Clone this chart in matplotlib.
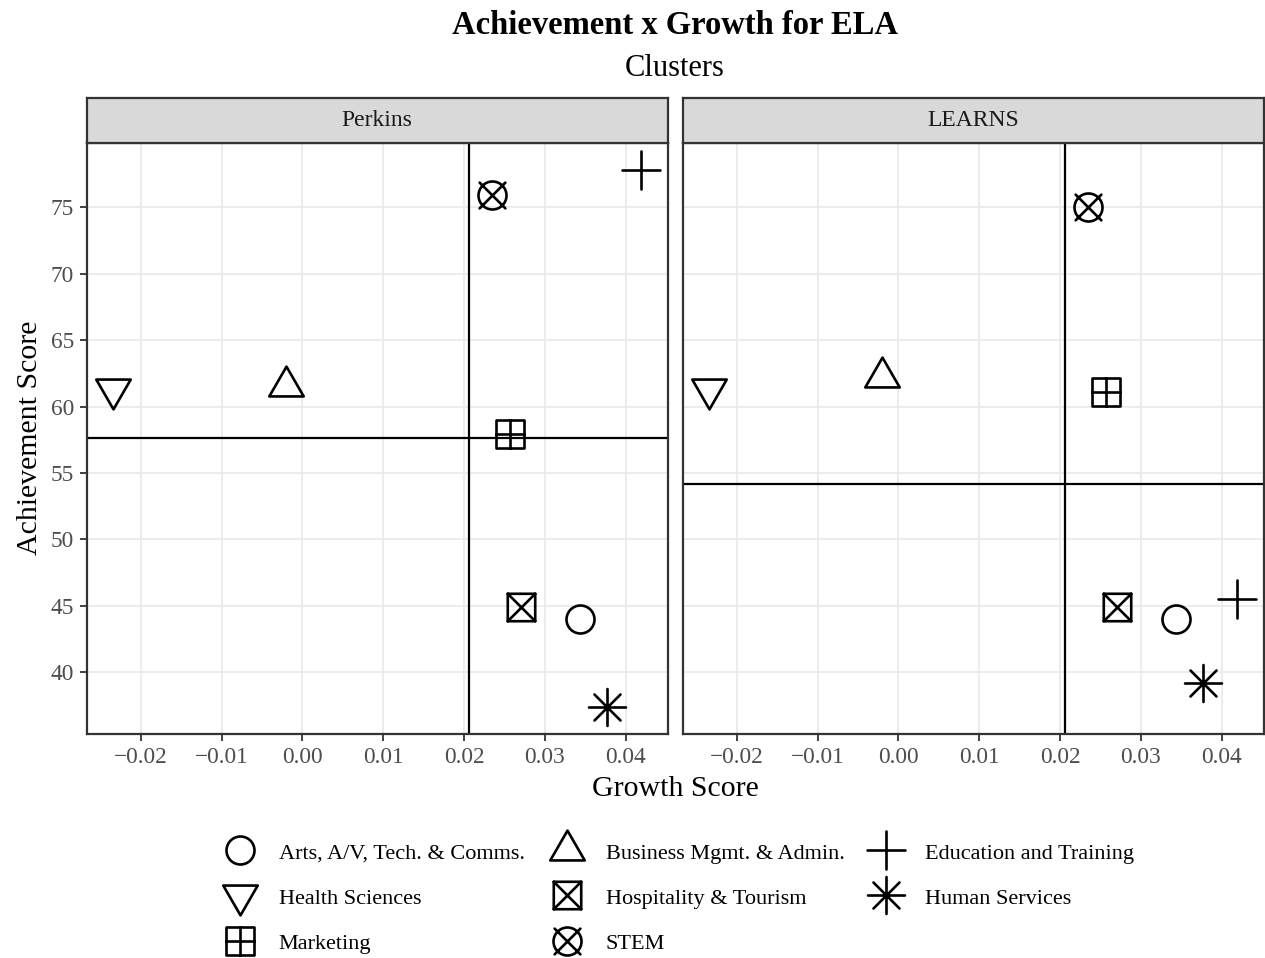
import numpy as np
import matplotlib
matplotlib.use("Agg")
import matplotlib.pyplot as plt
from matplotlib.path import Path
from matplotlib.markers import MarkerStyle
from matplotlib.lines import Line2D
from matplotlib.ticker import FuncFormatter

plt.rcParams['font.family'] = ['Liberation Serif', 'DejaVu Serif']

# data
clusters = ["Arts, A/V, Tech. & Comms.", "Business Mgmt. & Admin.", "Education and Training",
            "Health Sciences", "Hospitality & Tourism", "Human Services", "Marketing", "STEM"]
growth = [0.0343, -0.0020, 0.0419, -0.0234, 0.0270, 0.0377, 0.0257, 0.0235]
ach_perkins = [44.03, 61.54, 77.82, 61.32, 44.89, 37.38, 57.93, 75.90]
ach_learns = [44.03, 62.22, 45.50, 61.32, 44.89, 39.16, 61.13, 75.03]
panels = ["Perkins", "LEARNS"]
x_ticks = [-0.02, -0.01, 0.00, 0.01, 0.02, 0.03, 0.04]
y_ticks = [40, 45, 50, 55, 60, 65, 70, 75]


# ggplot-like point shapes built as paths (unit = circle radius)
def seg(x0, y0, x1, y1):
    return Path([(x0, y0), (x1, y1)], [Path.MOVETO, Path.LINETO])

def poly(pts):
    return Path(pts + [pts[0]], [Path.MOVETO] + [Path.LINETO] * (len(pts) - 1) + [Path.CLOSEPOLY])

def circ(r=1.0):
    c = Path.unit_circle()
    return Path(c.vertices * r, c.codes)

def comp(*ps):
    return Path.make_compound_path(*ps)

sq = 0.98
shapes = [
    circ(1.0),
    poly([(0, 1.42), (1.23, -0.71), (-1.23, -0.71)]),
    comp(seg(-1.36, 0, 1.36, 0), seg(0, -1.36, 0, 1.36)),
    poly([(0, -1.42), (1.23, 0.71), (-1.23, 0.71)]),
    comp(poly([(-sq, -sq), (sq, -sq), (sq, sq), (-sq, sq)]), seg(-sq, -sq, sq, sq), seg(-sq, sq, sq, -sq)),
    comp(seg(-1.32, 0, 1.32, 0), seg(0, -1.32, 0, 1.32), seg(-0.93, -0.93, 0.93, 0.93), seg(-0.93, 0.93, 0.93, -0.93)),
    comp(poly([(-sq, -sq), (sq, -sq), (sq, sq), (-sq, sq)]), seg(-sq, 0, sq, 0), seg(0, -sq, 0, sq)),
    comp(circ(1.0), seg(-0.92, -0.92, 0.92, 0.92), seg(-0.92, 0.92, 0.92, -0.92)),
]
r_pt = 14 * 0.72
markers = [MarkerStyle(p, capstyle='round', joinstyle='round') for p in shapes]
msizes = [2 * np.abs(p.vertices).max() * r_pt for p in shapes]
mew = 1.9

W, H = 1265, 958
fig = plt.figure(figsize=(W / 100, H / 100), dpi=100)

def fx(px):
    return px / W

def fy(px):
    return 1 - px / H

# limits like ggplot's 5% expansion
gx = np.array(growth)
ally = np.array(ach_perkins + ach_learns)
xpad = (gx.max() - gx.min()) * 0.05
ypad = (ally.max() - ally.min()) * 0.05
xlim = (gx.min() - xpad, gx.max() + xpad)
ylim = (ally.min() - ypad, ally.max() + ypad)

fmt = FuncFormatter(lambda v, p: ("%.2f" % (0.0 if abs(v) < 1e-9 else v)).replace('-', '\u2212'))

lefts = [87, 683]
pw = 580.5
top, bot = 143, 734
for i, (name, ach) in enumerate(zip(panels, [ach_perkins, ach_learns])):
    ax = fig.add_axes([fx(lefts[i]), fy(bot), pw / W, (bot - top) / H])
    ax.set_xlim(xlim)
    ax.set_ylim(ylim)
    ax.set_xticks(x_ticks)
    ax.set_yticks(y_ticks)
    ax.xaxis.set_major_formatter(fmt)
    ax.grid(True, color='#EBEBEB', lw=1.3)
    ax.set_axisbelow(True)
    for s in ax.spines.values():
        s.set_color('#333333')
        s.set_linewidth(1.6)
        s.set_zorder(5)
    ax.tick_params(length=5, width=1.3, color='#333333', labelcolor='#4D4D4D',
                   labelsize=16.8, pad=4.5)
    if i == 1:
        ax.tick_params(axis='y', left=False, labelleft=False)
    ax.axvline(np.mean(growth), color='black', lw=1.6, zorder=2)
    ax.axhline(np.mean(ach), color='black', lw=1.6, zorder=2)
    for k in range(len(clusters)):
        ax.plot(growth[k], ach[k], ls='none', marker=markers[k], ms=msizes[k],
                mec='black', mfc='none', mew=mew, zorder=3)

    # facet strip
    sax = fig.add_axes([fx(lefts[i]), fy(top), pw / W, 45 / H])
    sax.set_facecolor('#D9D9D9')
    sax.set_xticks([])
    sax.set_yticks([])
    for s in sax.spines.values():
        s.set_color('#333333')
        s.set_linewidth(1.6)
    sax.text(0.5, 0.5, name, ha='center', va='center', fontsize=17, color='#1A1A1A',
             transform=sax.transAxes)

fig.text(fx(675), fy(25), "Achievement x Growth for ELA", ha='center', va='center',
         fontsize=23.5, fontweight='bold')
fig.text(fx(675), fy(69), "Clusters", ha='center', va='center', fontsize=22)
fig.text(fx(675), fy(789), "Growth Score", ha='center', va='center', fontsize=21.5)
fig.text(fx(30), fy(438), "Achievement Score", ha='center', va='center', fontsize=21.5,
         rotation=90)

handles = [Line2D([], [], ls='none', marker=markers[k], ms=msizes[k], mec='black',
                  mfc='none', mew=mew) for k in range(len(clusters))]
order = [0, 3, 6, 1, 4, 7, 2, 5]
fig.legend([handles[k] for k in order], [clusters[k] for k in order],
           loc='upper center', bbox_to_anchor=(fx(676), fy(841)), ncol=3, frameon=False,
           fontsize=16, handlelength=2.0, handleheight=1.0, handletextpad=0.75,
           columnspacing=0.89, labelspacing=1.03, borderpad=0, borderaxespad=0)

fig.savefig("out.png", dpi=100)
